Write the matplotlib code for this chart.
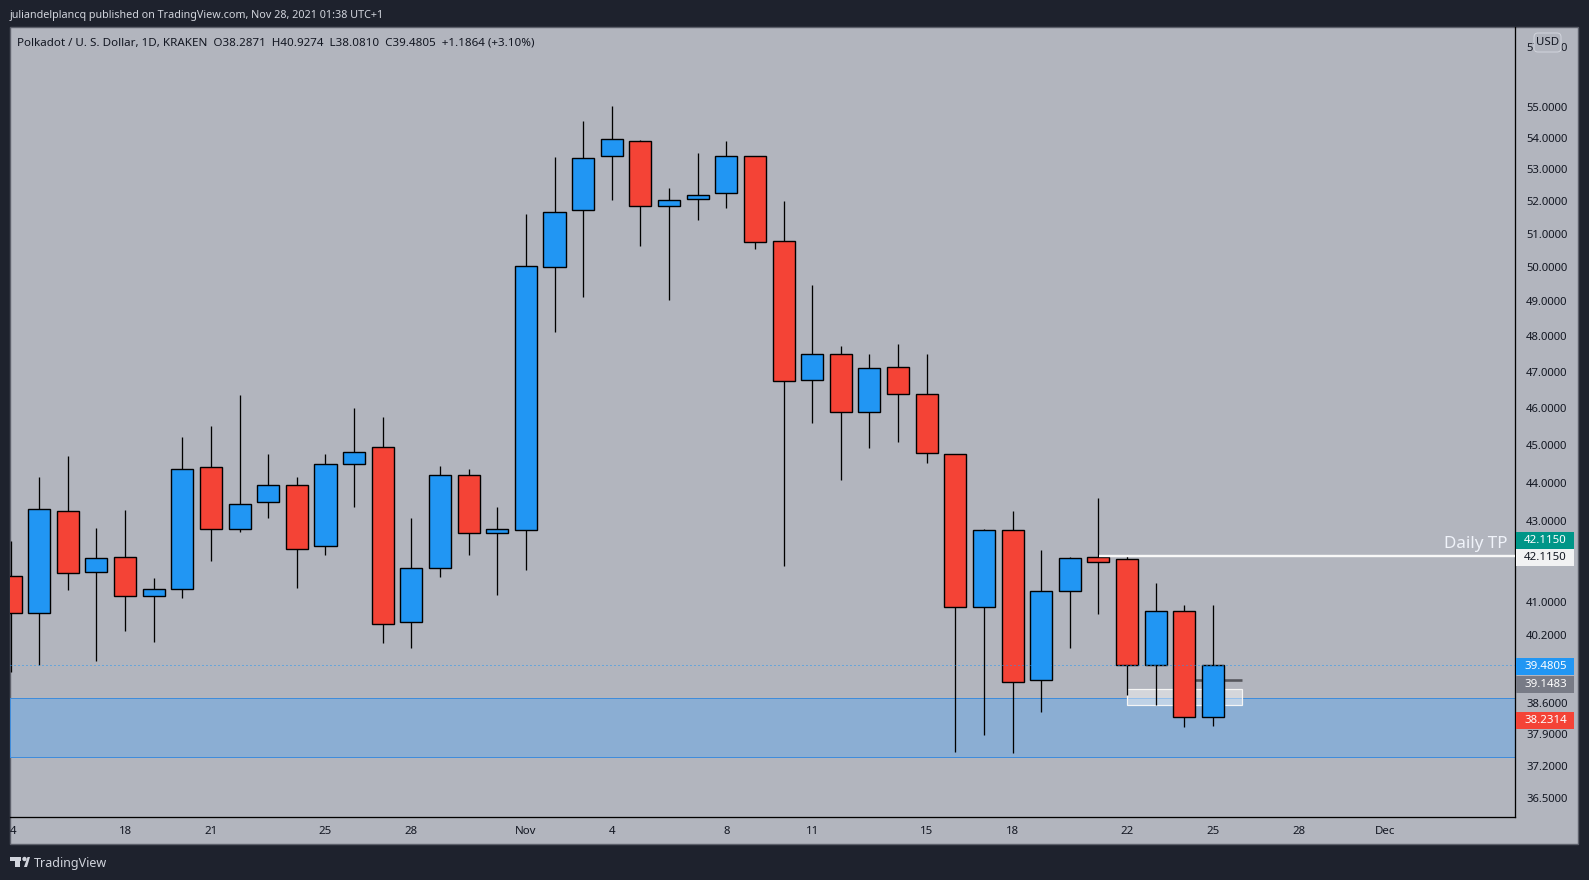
import matplotlib
matplotlib.use("Agg")
import matplotlib.pyplot as plt
from matplotlib.patches import Rectangle, FancyBboxPatch, Polygon, Circle
from matplotlib.ticker import NullLocator
from matplotlib.transforms import IdentityTransform

plt.rcParams['font.family'] = 'Noto Sans'

# one candle per day, index 0 = Oct 14
opens = [41.63, 40.72, 43.26, 41.72, 42.10, 41.15, 41.32, 44.40, 42.82, 43.49,
         43.93, 42.37, 44.48, 44.93, 40.50, 41.82, 44.21, 42.71, 42.79, 50.00,
         51.73, 53.41, 53.89, 51.85, 52.06, 52.25, 53.41, 50.78, 46.78, 47.49,
         45.90, 47.12, 46.39, 44.75, 40.87, 42.77, 39.13, 41.25, 42.10, 42.05,
         39.48, 40.77, 38.2871]
highs = [42.50, 44.14, 44.71, 42.83, 43.29, 41.58, 45.21, 45.51, 46.35, 44.76,
         44.14, 44.76, 45.99, 45.75, 43.09, 44.43, 44.35, 43.36, 51.61, 53.39,
         54.54, 55.03, 53.93, 52.42, 53.51, 53.89, 53.42, 52.01, 49.48, 47.72,
         47.49, 47.78, 47.49, 44.76, 42.81, 43.26, 42.28, 42.11, 43.60, 42.16,
         41.45, 40.91, 40.9274]
lows = [39.32, 39.48, 41.28, 39.58, 40.30, 40.04, 41.09, 42.01, 42.74, 43.10,
        41.34, 42.14, 43.37, 40.01, 39.89, 41.61, 42.14, 41.17, 41.78, 48.13,
        49.14, 52.05, 50.65, 49.05, 51.43, 51.78, 50.56, 41.88, 45.60, 44.07,
        44.92, 45.08, 44.52, 37.50, 37.88, 37.48, 38.41, 39.89, 40.69, 38.79,
        38.56, 38.06, 38.0810]
closes = [40.72, 43.31, 41.70, 42.07, 41.15, 41.32, 44.37, 42.82, 43.44, 43.93,
          42.29, 44.48, 44.80, 40.45, 41.82, 44.21, 42.70, 42.80, 50.03, 51.66,
          53.35, 53.95, 51.85, 52.03, 52.19, 53.41, 50.75, 46.75, 47.49, 45.90,
          47.09, 46.39, 44.77, 40.87, 42.77, 39.08, 41.25, 42.07, 41.97, 39.48,
          40.77, 38.28, 39.4805]

price_ticks = [57.0, 55.0, 54.0, 53.0, 52.0, 51.0, 50.0, 49.0, 48.0, 47.0, 46.0,
               45.0, 44.0, 43.0, 41.0, 40.2, 38.6, 37.9, 37.2, 36.5]
date_ticks = [0.1, 4, 7, 11, 14, 18, 21, 25, 28, 32, 35, 39, 42, 45, 48]
date_labels = ['4', '18', '21', '25', '28', 'Nov', '4', '8', '11', '15', '18',
               '22', '25', '28', 'Dec']

tp_price = 42.115
last_price = 39.4805
band_low, band_high = 37.38, 38.71
box_low, box_high = 38.57, 38.92
pending_price = 39.1483

BG = '#b2b5be'
FRAME = '#1e222d'
BLUE = '#2196f3'
RED = '#f44336'
W, H = 1589, 880
TXT = '#131722'


def px(size):
    # pixels to points, figure is 100 dpi
    return size * 0.72


fig = plt.figure(figsize=(W / 100, H / 100), dpi=100, facecolor=FRAME)


def pix_rect(x0, y0, x1, y1, **kw):
    fig.add_artist(Rectangle((x0, H - y1), x1 - x0, y1 - y0,
                             transform=IdentityTransform(), **kw))


pix_rect(10, 27, 1578, 844, facecolor=BG, edgecolor='#5d606b', linewidth=1, zorder=-1)

ax = fig.add_axes([10 / W, (H - 817) / H, (1515 - 10) / W, (817 - 27) / H])
ax.patch.set_alpha(0)
ax.set_yscale('log')
ax.set_xlim(-0.02, 52.55)
ax.set_ylim(36.08, 57.67)

# blue zone, then the small white box and grey line
ax.axhspan(band_low, band_high, facecolor='#8baed3', edgecolor='#3f8cdb', linewidth=px(1), zorder=1)
ax.add_patch(Rectangle((39, box_low), 4, box_high - box_low, facecolor='#ffffff', alpha=0.45,
                       edgecolor='none', zorder=2))
ax.add_patch(Rectangle((39, box_low), 4, box_high - box_low, facecolor='none',
                       edgecolor='#f5f5f5', linewidth=px(1.2), zorder=2))
ax.hlines(pending_price, 41, 43, color='#55565c', linewidth=px(2.6), zorder=2)

# candles
days = list(range(len(opens)))
colors = [BLUE if c >= o else RED for o, c in zip(opens, closes)]
bottoms = [min(o, c) for o, c in zip(opens, closes)]
heights = [abs(o - c) for o, c in zip(opens, closes)]
ax.vlines(days, lows, highs, color='black', linewidth=px(1.3), zorder=3)
ax.bar(days, heights, bottom=bottoms, width=0.77, color=colors, edgecolor='black',
       linewidth=px(1.4), zorder=4)

ax.hlines(last_price, -0.02, 52.55, color=BLUE, linewidth=px(1), linestyle=(0, (1, 3)), zorder=5)
ax.hlines(tp_price, 38.03, 52.55, color='#f8f8f8', linewidth=px(2.4), zorder=5)
ax.annotate('Daily TP', xy=(52.55, tp_price), xytext=(-8, 4), textcoords='offset pixels',
            ha='right', va='bottom', color='#f0f3fa', fontsize=px(17), zorder=6)

# axes
ax.yaxis.tick_right()
ax.yaxis.set_minor_locator(NullLocator())
ax.yaxis.set_major_locator(plt.FixedLocator(price_ticks))
ax.set_yticklabels([f'{p:.4f}' for p in price_ticks])
ax.set_xticks(date_ticks)
ax.set_xticklabels(date_labels)
ax.tick_params(axis='y', length=0, pad=px(11), labelsize=px(11.3), labelcolor=TXT)
ax.tick_params(axis='x', length=0, pad=px(9), labelsize=px(11.5), labelcolor=TXT)
ax.tick_params(axis='y', which='minor', length=0)
for side in ['top', 'left']:
    ax.spines[side].set_visible(False)
for side in ['right', 'bottom']:
    ax.spines[side].set_color('black')
    ax.spines[side].set_linewidth(px(1.3))


def pix_text(x, y, s, **kw):
    fig.text(x, H - y, s, transform=IdentityTransform(), va='center', **kw)


def price_tag(price, label, bg, fg, dy=0):
    y = H - ax.transData.transform((0, price))[1] + dy
    pix_rect(1515.5, y - 8.5, 1574, y + 8.5, facecolor=bg, edgecolor='none', zorder=6)
    pix_text(1545.5, y, label, ha='center', color=fg, fontsize=px(11.5), fontweight='bold', zorder=7)


price_tag(tp_price, '42.1150', '#009688', 'white', dy=-16)
price_tag(tp_price, '42.1150', '#f2f2f3', TXT, dy=1)
price_tag(last_price, '39.4805', BLUE, 'white', dy=1)
price_tag(pending_price, '39.1483', '#787b86', 'white', dy=5)
price_tag(38.2314, '38.2314', RED, 'white', dy=1.5)

# USD badge over the top tick
fig.add_artist(FancyBboxPatch((1534, H - 52), 27, 19, boxstyle='round,pad=0,rounding_size=4',
                              transform=IdentityTransform(), facecolor=BG, edgecolor='#d1d4dc',
                              linewidth=px(1), zorder=6))
pix_text(1547.5, 42.5, 'USD', ha='center', color=TXT, fontsize=px(11.5), zorder=7)

# header
pix_text(10, 15.5, 'juliandelplancq published on TradingView.com, Nov 28, 2021 01:38 UTC+1',
         color='#d1d4dc', fontsize=px(10.8), fontweight='medium')
pix_text(17, 43, 'Polkadot / U. S. Dollar, 1D, KRAKEN  O38.2871  H40.9274  L38.0810  C39.4805  '
                 '+1.1864 (+3.10%)', color=TXT, fontsize=px(11.6))

# footer logo
logo = '#d1d4dc'
pix_rect(10, 857, 21, 861, facecolor=logo, edgecolor='none')
pix_rect(15, 857, 20, 867, facecolor=logo, edgecolor='none')
fig.add_artist(Circle((24.5, H - 859), 2.2, transform=IdentityTransform(), facecolor=logo, edgecolor='none'))
fig.add_artist(Polygon([(24, H - 867), (27.5, H - 857), (30, H - 857), (27, H - 867)], closed=True,
                       transform=IdentityTransform(), facecolor=logo, edgecolor='none'))
pix_text(34, 863, 'TradingView', color=logo, fontsize=px(12.5))

fig.savefig('out.png', dpi=100, facecolor=FRAME)
